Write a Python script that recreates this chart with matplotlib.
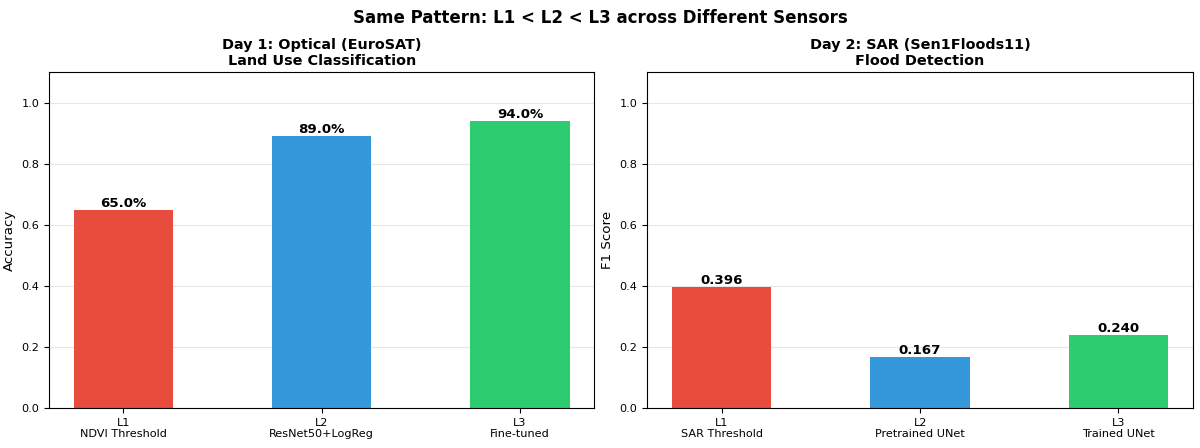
import matplotlib
matplotlib.use("Agg")
import matplotlib.pyplot as plt

levels = ["L1", "L2", "L3"]
optical_methods = ["NDVI Threshold", "ResNet50+LogReg", "Fine-tuned"]
optical_acc = [0.65, 0.89, 0.94]
sar_methods = ["SAR Threshold", "Pretrained UNet", "Trained UNet"]
sar_f1 = [0.396, 0.167, 0.240]
colors = ["#e74c3c", "#3498db", "#2ecc71"]

fig, axes = plt.subplots(1, 2, figsize=(12, 4.48), dpi=100)
fig.suptitle("Same Pattern: L1 < L2 < L3 across Different Sensors", fontsize=12, fontweight="bold", y=0.98)

def panel(ax, methods, vals, title, ylabel, fmt):
    x = range(len(vals))
    bars = ax.bar(x, vals, color=colors, width=0.5)
    ax.set_xticks(list(x))
    ax.set_xticklabels([f"{l}\n{m}" for l, m in zip(levels, methods)])
    ax.tick_params(labelsize=8.1)
    ax.set_ylim(0, 1.1)
    ax.set_ylabel(ylabel, fontsize=9.6)
    ax.set_title(title, fontsize=10.4, fontweight="bold", pad=4.8)
    ax.grid(axis="y", alpha=0.3)
    ax.set_axisbelow(True)
    for b, v in zip(bars, vals):
        ax.text(b.get_x() + b.get_width() / 2, v, fmt(v), ha="center", va="bottom",
                fontsize=9.6, fontweight="bold")

panel(axes[0], optical_methods, optical_acc, "Day 1: Optical (EuroSAT)\nLand Use Classification",
      "Accuracy", lambda v: f"{v*100:.1f}%")
panel(axes[1], sar_methods, sar_f1, "Day 2: SAR (Sen1Floods11)\nFlood Detection",
      "F1 Score", lambda v: f"{v:.3f}")

fig.subplots_adjust(left=0.0408, right=0.994, top=0.839, bottom=0.0893, wspace=0.097)
fig.savefig("out.png", dpi=100)
